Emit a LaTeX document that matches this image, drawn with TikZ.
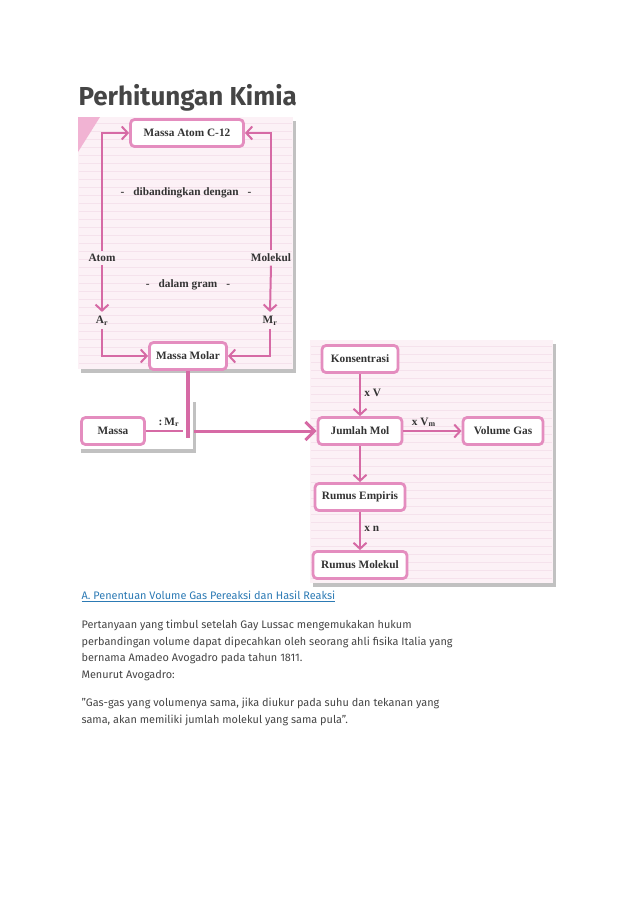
\documentclass[tikz,border=0pt]{standalone}
\usepackage{fontspec}
\setmainfont{Liberation Serif}
\newfontfamily\webfont{Fira Sans}
\usepackage{xcolor}
\usetikzlibrary{arrows.meta, positioning, calc, shadows}

\definecolor{pinkline}{HTML}{D66AA5}
\definecolor{pinkbox}{HTML}{E48DBF}
\definecolor{panelbg}{HTML}{FCF1F6}
\definecolor{stripe}{HTML}{F5E2EC}
\definecolor{pinkcorner}{HTML}{F1B3D3}
\definecolor{textgray}{HTML}{454545}
\definecolor{linkblue}{HTML}{2C7AB4}

\begin{document}
\begin{tikzpicture}[
    x=1pt, y=-1pt,
    % Panel styling (the pink book pages)
    panel/.style={fill=panelbg, drop shadow={shadow xshift=2.5pt, shadow yshift=-4pt, opacity=0.35, fill=black!70}},
    % Box styling
    box/.style={draw=pinkbox, line width=2.8pt, rectangle, rounded corners=4pt, fill=white, minimum height=27pt, inner xsep=2pt, align=center, text=black!80, font=\bfseries\fontsize{11.3}{13}\selectfont},
    lbl/.style={text=black!80, font=\bfseries\fontsize{11.3}{13}\selectfont},
    % Arrow styling
    arrow/.style={draw=pinkline, line width=2pt, -{Straight Barb[length=6pt, width=13pt]}},
    plain/.style={draw=pinkline, line width=2pt},
    barline/.style={draw=pinkline, line width=4pt},
    bigarrow/.style={draw=pinkline, line width=3pt, -{Straight Barb[length=9pt, width=18pt]}},
    % Page text styling
    webtext/.style={anchor=west, text=textgray, font=\webfont\fontsize{10.9}{13}\selectfont}
]
\useasboundingbox (0,0) rectangle (638,903);

% ---------------------------------------------------
% 1. PANELS (background of the picture)
% ---------------------------------------------------
\fill[panel] (78,117) rectangle (293,369);
\fill[panel, fill=white] (78,398) rectangle (193,449);
\fill[panel] (310,340) rectangle (553,583);
\foreach \y in {123,131,...,365} \draw[stripe, line width=0.6pt] (79,\y) -- (292,\y);
\foreach \y in {346,354,...,580} \draw[stripe, line width=0.6pt] (311,\y) -- (552,\y);
\fill[pinkcorner] (78,117) -- (100,117) -- (78,152) -- cycle;

% ---------------------------------------------------
% 2. NODES
% ---------------------------------------------------
\node[anchor=west, text=textgray, font=\webfont\bfseries\fontsize{26}{30}\selectfont] (title) at (75,98) {Perhitungan Kimia};

% Upper panel
\node[box, minimum width=113pt] (c12) at (187,133) {Massa Atom C-12};
\node[lbl] (banding) at (186,193) {-\;\; dibandingkan dengan \;\;-};
\node[lbl] (atom) at (102,258) {Atom};
\node[lbl] (molekul) at (271,258) {Molekul};
\node[lbl] (gram) at (188,285) {-\;\; dalam gram \;\;-};
\node[lbl] (ar) at (102,321) {A\textsubscript{r}};
\node[lbl] (mr) at (270,321) {M\textsubscript{r}};
\node[box, minimum width=77pt] (molar) at (188,356) {Massa Molar};

% Lower left panel
\node[box, minimum width=63pt] (massa) at (113,431) {Massa};
\coordinate (mjoin) at (183,431);
\coordinate (barend) at (188,438);
\coordinate (bigstart) at (194,431);

% Right panel
\node[box, minimum width=76pt] (konsentrasi) at (360,359) {Konsentrasi};
\node[box, minimum width=84pt] (jumlah) at (360,431) {Jumlah Mol};
\node[box, minimum width=80pt] (volume) at (503,431) {Volume Gas};
\node[box, minimum width=90pt] (empiris) at (360,497) {Rumus Empiris};
\node[box, minimum width=94pt] (rmolekul) at (360,565) {Rumus Molekul};

% Page text
\node[webtext, text=linkblue] (heading) at (78,596) {\underline{A. Penentuan Volume Gas Pereaksi dan Hasil Reaksi}};
\node[webtext] (line1) at (78,625) {Pertanyaan yang timbul setelah Gay Lussac mengemukakan hukum};
\node[webtext] (line2) at (78,642) {perbandingan volume dapat dipecahkan oleh seorang ahli fisika Italia yang};
\node[webtext] (line3) at (78,659) {bernama Amadeo Avogadro pada tahun 1811.};
\node[webtext] (line4) at (78,676) {Menurut Avogadro:};
\node[webtext] (line5) at (78,703) {”Gas-gas yang volumenya sama, jika diukur pada suhu dan tekanan yang};
\node[webtext] (line6) at (78,720) {sama, akan memiliki jumlah molekul yang sama pula”.};

% ---------------------------------------------------
% 3. CONNECTIONS
% ---------------------------------------------------

% Atom / Molekul -> Massa Atom C-12
\draw[arrow] (atom.north) |- (c12.west);
\draw[arrow] (molekul.north) |- (c12.east);

% Atom / Molekul -> Ar / Mr
\draw[arrow] (atom.south) -- ([yshift=1pt]ar.north);
\draw[arrow] (molekul.south) -- ([yshift=1pt]mr.north);

% Ar / Mr -> Massa Molar
\draw[arrow] (ar.south) |- (molar.west);
\draw[arrow] (mr.south) |- (molar.east);

% Massa Molar + Massa -> Jumlah Mol
\draw[barline] (molar.south) -- (barend);
\draw[plain] (massa.east) -- node[lbl, above, pos=0.62] {:\,M\textsubscript{r}} (mjoin);
\draw[bigarrow] (bigstart) -- (jumlah.west);

% Right panel
\draw[arrow] (konsentrasi.south) -- node[lbl, right, pos=0.45] {x V} (jumlah.north);
\draw[arrow] (jumlah.east) -- node[lbl, above, pos=0.35] {x V\textsubscript{m}} (volume.west);
\draw[arrow] (jumlah.south) -- (empiris.north);
\draw[arrow] (empiris.south) -- node[lbl, right, pos=0.45] {x n} (rmolekul.north);

\end{tikzpicture}
\end{document}
